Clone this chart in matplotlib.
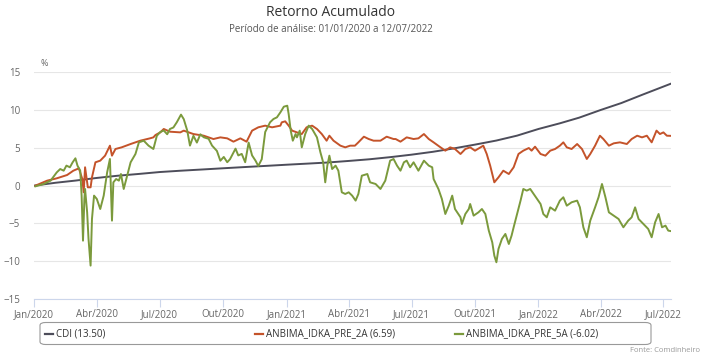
import matplotlib
matplotlib.use("Agg")
import matplotlib.pyplot as plt
from matplotlib.patches import FancyBboxPatch
import pandas as pd

plt.rcParams['font.family'] = ['Open Sans', 'DejaVu Sans']

start = pd.Timestamp('2020-01-01')

# CDI - dias desde 01/01/2020 e retorno acumulado (%)
cdi_day = [0, 31, 60, 91, 121, 152, 182, 213, 244, 274, 305, 335, 366, 397, 425,
           456, 486, 517, 547, 578, 609, 639, 670, 700, 731, 762, 790, 821, 851,
           882, 912, 923]
cdi_val = [0, 0.38, 0.67, 1.02, 1.31, 1.55, 1.80, 1.98, 2.14, 2.30, 2.46, 2.61,
           2.77, 2.92, 3.06, 3.27, 3.49, 3.78, 4.10, 4.48, 4.94, 5.43, 5.97, 6.62,
           7.50, 8.25, 9.00, 10.01, 10.93, 12.05, 13.11, 13.50]

# ANBIMA_IDKA_PRE_2A
p2_day = [2, 19, 33, 48, 57, 65, 70, 72, 74, 78, 82, 84, 89, 96, 103, 110, 113,
          118, 127, 140, 154, 168, 173, 176, 183, 188, 197, 212, 217, 231, 246,
          260, 270, 280, 289, 299, 308, 316, 325, 335, 345, 357, 359, 364, 369,
          374, 381, 388, 395, 403, 410, 417, 424, 428, 434, 444, 451, 458, 465,
          470, 478, 485, 492, 502, 511, 521, 524, 531, 540, 550, 557, 565, 572,
          579, 589, 596, 603, 610, 618, 625, 632, 639, 647, 651, 656, 661, 667,
          673, 680, 688, 695, 702, 709, 717, 721, 726, 734, 741, 748, 755, 762,
          767, 772, 779, 787, 794, 801, 806, 813, 820, 825, 833, 840, 849, 859,
          866, 874, 881, 888, 895, 902, 907, 912, 917, 923]
p2_val = [0, 0.66, 0.97, 1.41, 1.98, 2.29, 0.88, -0.88, 2.43, -0.22, -0.22, 1.10,
          3.09, 3.31, 3.97, 5.29, 3.97, 4.85, 5.07, 5.51, 5.95, 6.26, 6.39, 6.70,
          7.05, 7.50, 7.14, 7.05, 7.28, 6.83, 6.61, 6.17, 6.39, 6.26, 5.82, 6.26,
          5.82, 7.28, 7.72, 7.94, 7.72, 7.94, 8.38, 8.51, 7.94, 7.28, 7.05, 6.83,
          7.72, 7.94, 7.50, 6.83, 5.95, 6.61, 5.95, 5.29, 5.07, 5.29, 5.29, 5.73,
          6.48, 6.17, 5.95, 5.95, 6.48, 6.17, 6.17, 5.82, 6.39, 6.17, 6.26, 6.83,
          6.17, 5.73, 5.07, 4.63, 5.07, 4.85, 4.19, 4.85, 5.07, 4.63, 5.07, 5.29,
          4.19, 2.65, 0.44, 1.10, 1.98, 1.54, 2.43, 4.19, 4.63, 4.98, 4.63, 5.16,
          4.19, 3.97, 4.63, 4.85, 5.29, 5.73, 5.07, 4.85, 5.51, 4.85, 3.53, 4.19,
          5.29, 6.61, 6.17, 5.29, 5.60, 5.73, 5.51, 6.17, 6.61, 6.39, 6.61, 5.73,
          7.28, 6.83, 7.05, 6.61, 6.59]

# ANBIMA_IDKA_PRE_5A
p5_day = [2, 14, 24, 33, 38, 43, 47, 52, 56, 60, 63, 67, 69, 71, 73, 74, 77, 79,
          82, 84, 87, 91, 96, 101, 106, 110, 113, 115, 119, 123, 126, 130, 135,
          140, 147, 152, 159, 166, 173, 178, 183, 188, 193, 197, 202, 207, 213,
          217, 222, 226, 231, 236, 241, 246, 253, 258, 265, 270, 275, 280, 284,
          292, 296, 301, 306, 311, 316, 321, 325, 330, 335, 342, 347, 352, 357,
          362, 367, 369, 372, 375, 379, 381, 385, 388, 393, 398, 403, 410, 415,
          419, 422, 425, 428, 432, 437, 441, 446, 451, 456, 461, 466, 470, 475,
          483, 487, 495, 502, 509, 516, 521, 526, 531, 536, 540, 545, 550, 557,
          565, 572, 577, 579, 586, 591, 596, 601, 606, 610, 618, 620, 625, 630,
          632, 637, 644, 649, 654, 659, 664, 667, 670, 673, 678, 683, 688, 692,
          695, 700, 705, 709, 714, 719, 724, 729, 734, 738, 743, 748, 755, 762,
          767, 772, 779, 787, 791, 796, 801, 806, 813, 818, 823, 828, 833, 840,
          847, 854, 861, 866, 871, 876, 883, 890, 895, 900, 905, 910, 915, 919,
          923]
p5_val = [-0.09, 0.22, 0.66, 1.76, 2.20, 1.98, 2.65, 2.43, 3.09, 3.62, 2.65, 1.98,
          -1.32, -7.28, -1.76, -0.44, -3.53, -7.05, -10.58, -4.41, -1.32, -1.76,
          -3.09, -1.32, 1.76, 3.53, -4.63, 0.44, 0.88, 0.66, 1.54, -0.44, 1.32,
          3.09, 4.19, 5.73, 5.95, 5.29, 4.85, 6.60, 7.10, 7.30, 6.80, 7.50, 7.70,
          8.40, 9.40, 8.80, 7.30, 5.30, 6.60, 5.70, 6.80, 6.40, 6.20, 5.30, 4.60,
          3.30, 3.80, 3.10, 3.50, 4.90, 4.00, 4.20, 3.10, 5.70, 4.00, 3.30, 2.60,
          3.50, 7.10, 8.38, 8.82, 9.04, 9.70, 10.45, 10.58, 9.48, 7.28, 5.95, 6.83,
          6.39, 7.28, 5.07, 6.83, 7.94, 7.50, 6.39, 4.41, 3.09, 0.44, 2.65, 3.97,
          2.20, 2.65, 1.98, -0.88, -1.10, -0.88, -1.32, -1.98, -1.10, 1.32, 1.54,
          0.44, 0.22, -0.44, 0.66, 3.31, 3.53, 2.65, 1.98, 3.09, 3.31, 2.43, 3.09,
          1.98, 3.31, 2.65, 2.43, 0.88, -0.44, -1.76, -3.75, -2.65, -1.32, -3.09,
          -4.19, -5.07, -3.75, -3.09, -2.43, -3.97, -3.53, -3.09, -3.75, -5.95,
          -7.50, -9.26, -10.14, -8.38, -7.05, -6.39, -7.72, -6.61, -5.51, -3.75,
          -1.98, -0.44, -0.66, -0.44, -1.10, -1.76, -2.43, -3.75, -4.19, -2.87,
          -3.31, -1.98, -1.54, -2.65, -2.20, -1.98, -2.87, -5.51, -6.83, -4.63,
          -2.87, -1.54, 0.22, -1.54, -3.53, -3.97, -4.41, -5.51, -4.63, -4.19,
          -2.87, -4.41, -5.07, -5.73, -6.83, -4.85, -3.75, -5.51, -5.29, -5.95,
          -6.02]

series = [
    ('CDI (13.50)', cdi_day, cdi_val, '#4d4d5a'),
    ('ANBIMA_IDKA_PRE_2A (6.59)', p2_day, p2_val, '#c4532a'),
    ('ANBIMA_IDKA_PRE_5A (-6.02)', p5_day, p5_val, '#7b9a3c'),
]

fig = plt.figure(figsize=(7.1, 3.57), dpi=100)
ax = fig.add_axes([34 / 710, 1 - 299 / 357, (671 - 34) / 710, (299 - 72.3) / 357])

for name, d, v, c in series:
    x = start + pd.to_timedelta(d, unit='D')
    ax.plot(x, v, color=c, lw=1.4, solid_joinstyle='round')

ax.set_ylim(-15, 15)
ax.set_yticks(range(-15, 16, 5))
ax.set_xlim(start, start + pd.Timedelta(days=923))
ticks = pd.date_range('2020-01-01', '2022-07-01', freq='QS')
ax.set_xticks(ticks)
meses = {1: 'Jan', 4: 'Abr', 7: 'Jul', 10: 'Out'}
ax.set_xticklabels([f'{meses[t.month]}/{t.year}' for t in ticks])

ax.grid(axis='y', color='#e6e6e6', lw=0.8)
ax.set_axisbelow(True)
for s in ['top', 'right', 'left']:
    ax.spines[s].set_visible(False)
ax.spines['bottom'].set_color('#ccd6eb')
ax.tick_params(axis='y', length=0, labelsize=7, labelcolor='#666666', pad=10)
ax.tick_params(axis='x', length=6, color='#ccd6eb', labelsize=7,
               labelcolor='#666666', pad=1)

fig.text(44 / 710, 1 - 63 / 357, '%', fontsize=6.5, color='#666666', ha='center', va='center')
fig.text(331 / 710, 1 - 12 / 357, 'Retorno Acumulado', fontsize=10, color='#333333',
         ha='center', va='center')
fig.text(331 / 710, 1 - 30 / 357, 'Período de análise: 01/01/2020 a 12/07/2022', fontsize=7,
         color='#555555', ha='center', va='center')

# legenda
box = FancyBboxPatch((40 / 710, 1 - 344.5 / 357), (651 - 40) / 710, 22 / 357,
                     boxstyle='round,pad=0,rounding_size=0.008', transform=fig.transFigure,
                     fc='white', ec='#999999', lw=0.8)
fig.patches.append(box)
leg_x = [45, 255, 455]
ly = 1 - 333.5 / 357
for (name, d, v, c), lx in zip(series, leg_x):
    fig.lines.append(plt.Line2D([lx / 710, (lx + 8) / 710], [ly, ly], color=c, lw=1.6,
                                transform=fig.transFigure))
    fig.text((lx + 11) / 710, ly, name, fontsize=7, color='#333333', ha='left', va='center')

fig.text(700 / 710, 1 - 351 / 357, 'Fonte: Comdinheiro', fontsize=5.5, color='#999999',
         ha='right', va='center')

fig.savefig('out.png', dpi=100)
